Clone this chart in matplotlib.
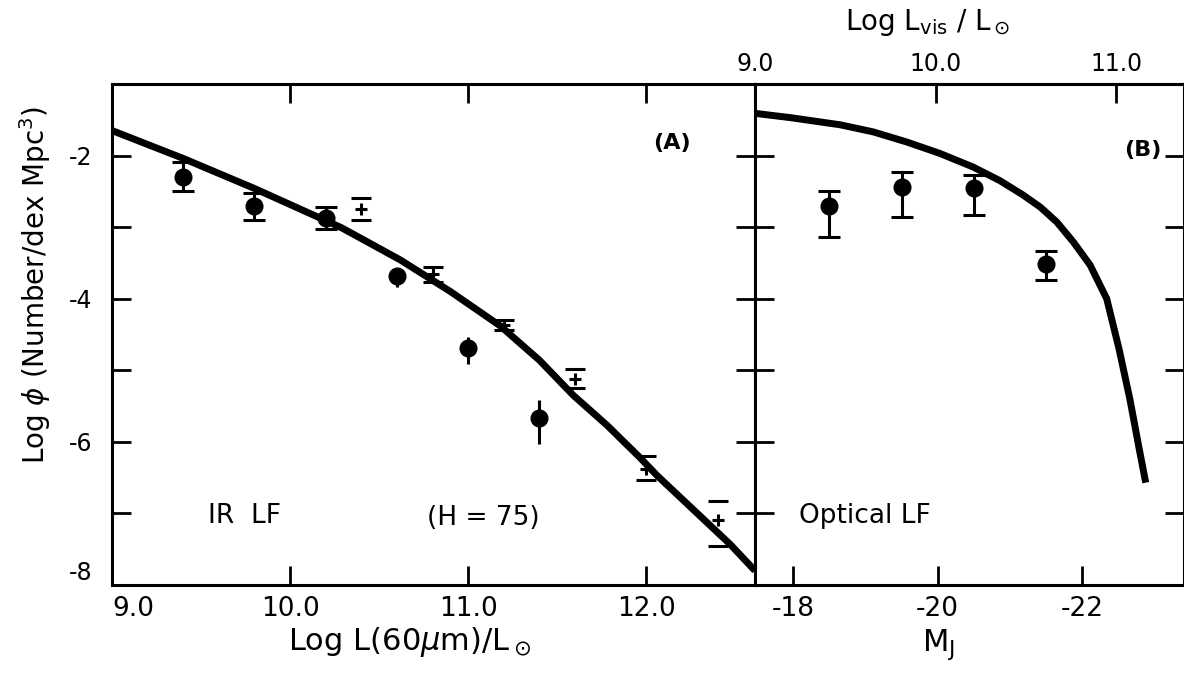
import matplotlib.pyplot as plt

plt.rcParams['font.family'] = ['DejaVu Sans']
plt.rcParams['mathtext.fontset'] = 'dejavusans'

# panel A: IR luminosity function
ir_curve_L = [9.0, 9.4, 9.8, 10.13, 10.29, 10.62, 10.9, 11.18, 11.40, 11.59, 11.78, 11.96, 12.06, 12.47, 12.61]
ir_curve_phi = [-1.65, -2.04, -2.46, -2.83, -3.01, -3.46, -3.90, -4.38, -4.86, -5.35, -5.77, -6.21, -6.47, -7.43, -7.80]

dots_L = [9.4, 9.8, 10.2, 10.6, 11.0, 11.4]
dots_phi = [-2.30, -2.71, -2.87, -3.68, -4.69, -5.67]
dots_hi = [0.21, 0.19, 0.15, 0.11, 0.16, 0.25]
dots_lo = [0.19, 0.19, 0.15, 0.16, 0.22, 0.36]

cross_L = [10.4, 10.8, 11.2, 11.6, 12.0, 12.4]
cross_phi = [-2.74, -3.65, -4.37, -5.12, -6.38, -7.09]
cross_hi = [0.15, 0.09, 0.07, 0.14, 0.18, 0.26]
cross_lo = [0.16, 0.11, 0.07, 0.13, 0.15, 0.36]

# panel B: optical luminosity function
opt_curve_M = [-17.47, -17.96, -18.65, -19.11, -19.57, -20.03, -20.49, -20.86, -21.18, -21.42,
               -21.65, -21.88, -22.11, -22.34, -22.51, -22.66, -22.79, -22.88]
opt_curve_phi = [-1.41, -1.47, -1.57, -1.67, -1.81, -1.97, -2.16, -2.35, -2.55, -2.72,
                 -2.93, -3.21, -3.53, -4.00, -4.70, -5.40, -6.10, -6.57]

opt_M = [-18.5, -19.5, -20.5, -21.5]
opt_phi = [-2.70, -2.44, -2.46, -3.52]
opt_hi = [0.21, 0.21, 0.19, 0.19]
opt_lo = [0.44, 0.42, 0.37, 0.22]

W, H = 1184, 677
fig = plt.figure(figsize=(W / 100, H / 100), dpi=100)
bot = 1 - 585 / H
hgt = (585 - 84) / H
ax1 = fig.add_axes([112 / W, bot, (755 - 112) / W, hgt])
ax2 = fig.add_axes([755 / W, bot, (1184 - 755) / W, hgt])

for ax in (ax1, ax2):
    for s in ax.spines.values():
        s.set_linewidth(2.2)
    ax.set_ylim(-8, -1.0)
    ax.set_yticks([-8, -7, -6, -5, -4, -3, -2])
    ax.tick_params(direction='in', length=14, width=2, top=True, right=True)

lw_curve = 5
ax1.plot(ir_curve_L, ir_curve_phi, color='black', lw=lw_curve, solid_capstyle='butt')
# first three dots have caps, the fainter ones do not
ax1.errorbar(dots_L[:3], dots_phi[:3], yerr=[dots_lo[:3], dots_hi[:3]], fmt='o', color='black',
             ms=12, elinewidth=2.2, capsize=8, capthick=2.2)
ax1.errorbar(dots_L[3:], dots_phi[3:], yerr=[dots_lo[3:], dots_hi[3:]], fmt='o', color='black',
             ms=12, elinewidth=2.2, capsize=0)
ax1.errorbar(cross_L, cross_phi, yerr=[cross_lo, cross_hi], fmt='+', color='black',
             ms=8, mew=2.2, elinewidth=0, capsize=7, capthick=2.2)

ax1.set_xlim(9.0, 12.61)
ax1.set_xticks([9.0, 10.0, 11.0, 12.0])
ax1.set_xticklabels(['9.0', '10.0', '11.0', '12.0'], fontsize=19)
ax1.set_yticklabels(['-8', '', '-6', '', '-4', '', '-2'], fontsize=17)
ax1.tick_params(axis='y', pad=14)
ax1.tick_params(axis='x', pad=8)
# corner labels sit off the corner as in the original
ax1.get_xticklabels()[0].set_horizontalalignment('left')
ax1.get_yticklabels()[0].set_verticalalignment('bottom')

ax2.plot(opt_curve_M, opt_curve_phi, color='black', lw=lw_curve, solid_capstyle='butt')
ax2.errorbar(opt_M, opt_phi, yerr=[opt_lo, opt_hi], fmt='o', color='black',
             ms=12, elinewidth=2.2, capsize=8, capthick=2.2)
ax2.set_xlim(-17.47, -23.41)
ax2.set_xticks([-18, -20, -22])
ax2.set_xticklabels(['-18', '-20', '-22'], fontsize=19)
ax2.tick_params(axis='x', pad=8, top=False)
ax2.set_yticklabels([])

top = ax2.secondary_xaxis('top', functions=(lambda m: 9 + (-17.47 - m) / 2.5,
                                            lambda l: -17.47 - 2.5 * (l - 9)))
top.set_xticks([9.0, 10.0, 11.0])
top.set_xticklabels(['9.0', '10.0', '11.0'], fontsize=17)
top.tick_params(direction='in', length=14, width=2, pad=6)
top.spines['top'].set_linewidth(2.2)

# labels
fig.text(35 / W, 1 - 285 / H, r'Log $\phi$ (Number/dex Mpc$^3$)', rotation=90,
         ha='center', va='center', fontsize=20)
fig.text(410 / W, 1 - 642 / H, r'Log L(60$\mu$m)/L$_\odot$', ha='center', va='center', fontsize=22)
fig.text(938 / W, 1 - 645 / H, r'M$_{\rm J}$', ha='center', va='center', fontsize=22)
fig.text(928 / W, 1 - 22 / H, r'Log L$_{\rm vis}$ / L$_\odot$', ha='center', va='center', fontsize=20)

fig.text(672 / W, 1 - 143 / H, '(A)', fontsize=16, fontweight='bold', ha='center', va='center')
fig.text(1143 / W, 1 - 150 / H, '(B)', fontsize=16, fontweight='bold', ha='center', va='center')
fig.text(245 / W, 1 - 516 / H, 'IR  LF', fontsize=19, ha='center', va='center')
fig.text(483 / W, 1 - 518 / H, '(H = 75)', fontsize=19, ha='center', va='center')
fig.text(865 / W, 1 - 516 / H, 'Optical LF', fontsize=19, ha='center', va='center')

fig.savefig('out.png', dpi=100)
